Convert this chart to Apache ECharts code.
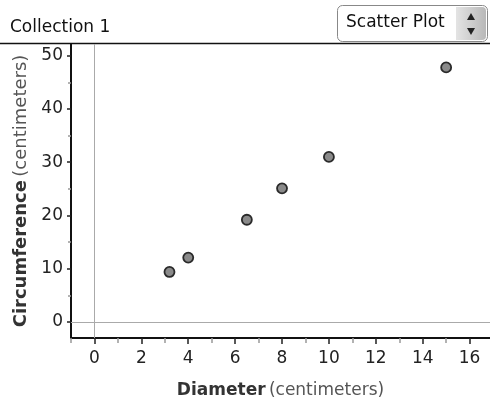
<!DOCTYPE html>
<html>
<head>
<meta charset="utf-8">
<script src="https://cdn.jsdelivr.net/npm/echarts@6/dist/echarts.min.js"></script>
<style>
  html, body { margin: 0; padding: 0; background: #fff; }
  #chart { width: 490px; height: 404px; }
</style>
</head>
<body>
<div id="chart"></div>
<script>
// measured points: diameter vs circumference (cm)
const diameters = [3.2, 4, 6.5, 8, 10, 15];
const circumferences = [9.4, 12.1, 19.2, 25.1, 31, 47.8];

// tick positions
const xMajorTicks = [0, 2, 4, 6, 8, 10, 12, 14, 16];
const xMinorTicks = [-1, 1, 3, 5, 7, 9, 11, 13, 15];
const yMajorTicks = [0, 10, 20, 30, 40, 50];
const yMinorTicks = [5, 15, 25, 35, 45];

const FONT = 'DejaVu Sans';
const X_MIN = -1, X_MAX = 16.87;
const Y_MIN = -3, Y_MAX = 52.2;

const chart = echarts.init(document.getElementById('chart'));

const points = diameters.map((d, i) => [d, circumferences[i]]);

const option = {
  animation: false,
  grid: { left: 71, right: 0, top: 44, bottom: 65 },
  xAxis: [
    {
      type: 'value', position: 'bottom', min: X_MIN, max: X_MAX,
      splitLine: { show: false },
      axisLine: { onZero: false, lineStyle: { color: '#111', width: 2 } },
      axisTick: { customValues: xMajorTicks, length: 6, lineStyle: { color: '#222', width: 1.5 } },
      axisLabel: { customValues: xMajorTicks, margin: 12, fontFamily: FONT, fontSize: 17, color: '#222' },
      name: '{b|Diameter} {n|(centimeters)}',
      nameLocation: 'middle', nameGap: 44,
      nameTextStyle: {
        rich: {
          b: { fontFamily: FONT, fontSize: 17, fontWeight: 'bold', color: '#333' },
          n: { fontFamily: FONT, fontSize: 17, color: '#555' }
        }
      }
    },
    {
      type: 'value', position: 'bottom', min: X_MIN, max: X_MAX,
      splitLine: { show: false },
      axisLine: { show: false, onZero: false },
      axisTick: { customValues: xMinorTicks, length: 5, lineStyle: { color: '#999', width: 1.5 } },
      axisLabel: { show: false }
    }
  ],
  yAxis: [
    {
      type: 'value', position: 'left', min: Y_MIN, max: Y_MAX,
      splitLine: { show: false },
      axisLine: { show: true, onZero: false, lineStyle: { color: '#111', width: 2 } },
      axisTick: { show: true, customValues: yMajorTicks, length: 4, lineStyle: { color: '#222', width: 1.5 } },
      axisLabel: { customValues: yMajorTicks, margin: 8, fontFamily: FONT, fontSize: 17, color: '#222' },
      name: '{b|Circumference} {n|(centimeters)}',
      nameLocation: 'middle', nameRotate: 90, nameGap: 40,
      nameTextStyle: {
        rich: {
          b: { fontFamily: FONT, fontSize: 18, fontWeight: 'bold', color: '#333' },
          n: { fontFamily: FONT, fontSize: 18, color: '#555' }
        }
      }
    },
    {
      type: 'value', position: 'left', min: Y_MIN, max: Y_MAX,
      splitLine: { show: false },
      axisLine: { show: false, onZero: false },
      axisTick: { show: true, customValues: yMinorTicks, length: 3, lineStyle: { color: '#999', width: 1.5 } },
      axisLabel: { show: false }
    }
  ],
  series: [
    {
      type: 'scatter',
      xAxisIndex: 0, yAxisIndex: 0,
      data: points,
      symbolSize: 10,
      itemStyle: { color: '#8a8a8a', borderColor: '#2a2a2a', borderWidth: 1.8, opacity: 1 },
      markLine: {
        silent: true,
        symbol: 'none',
        label: { show: false },
        lineStyle: { color: '#aaa', width: 1, type: 'solid' },
        data: [{ xAxis: 0 }, { yAxis: 0 }]
      }
    }
  ],
  graphic: [
    {
      type: 'text', left: 10, top: 19,
      style: { text: 'Collection 1', fontFamily: FONT, fontSize: 17, fill: '#111' }
    },
    {
      type: 'line',
      shape: { x1: 0, y1: 43.5, x2: 490, y2: 43.5 },
      style: { stroke: '#111', lineWidth: 1.5 }
    },
    {
      type: 'rect',
      shape: { x: 337.5, y: 5.5, width: 150, height: 36, r: 5 },
      style: { fill: '#fff', stroke: '#888', lineWidth: 1 }
    },
    {
      type: 'rect',
      shape: { x: 456, y: 7, width: 30, height: 33, r: [0, 4, 4, 0] },
      style: {
        fill: new echarts.graphic.LinearGradient(0, 0, 1, 0, [
          { offset: 0, color: '#e4e4e4' },
          { offset: 1, color: '#b8b8b8' }
        ])
      }
    },
    {
      type: 'polygon',
      shape: { points: [[467, 20], [475, 20], [471, 13]] },
      style: { fill: '#222' }
    },
    {
      type: 'polygon',
      shape: { points: [[467, 28], [475, 28], [471, 35]] },
      style: { fill: '#222' }
    },
    {
      type: 'text', left: 346, top: 14,
      style: { text: 'Scatter Plot', fontFamily: FONT, fontSize: 17, fill: '#111' }
    }
  ]
};

chart.setOption(option);
</script>
</body>
</html>
